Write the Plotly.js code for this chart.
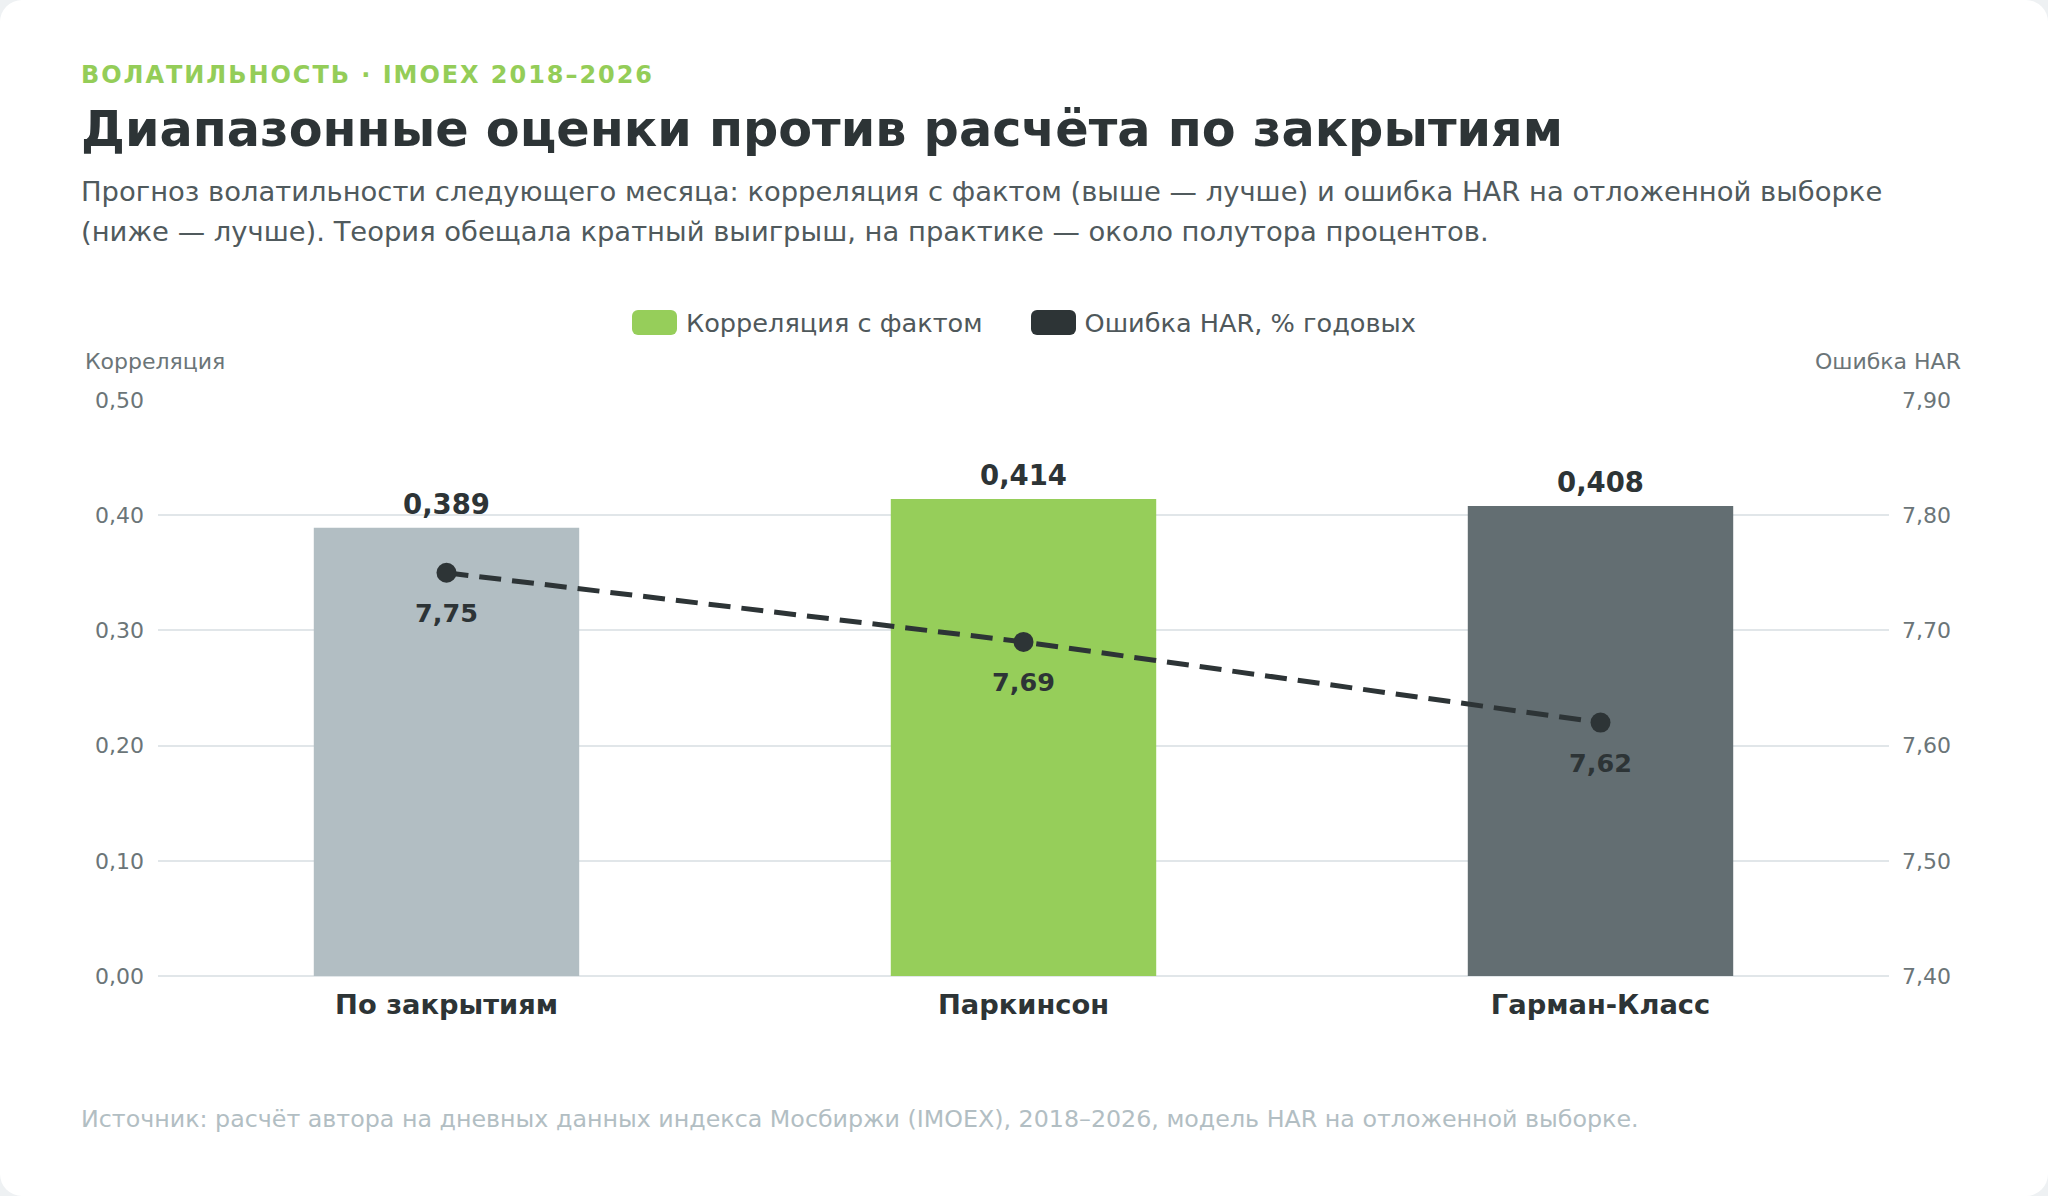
<!DOCTYPE html>
<html lang="ru">
<head>
<meta charset="utf-8">
<title>Диапазонные оценки против расчёта по закрытиям</title>
<script src="https://cdn.plot.ly/plotly-3.0.1.min.js"></script>
<style>
  html, body { margin:0; padding:0; background:#eef1f3; }
  body { width:2048px; height:1196px; overflow:hidden; font-family:"DejaVu Sans", sans-serif; }
  .card { position:absolute; left:0; top:0; width:2048px; height:1196px; background:#fff; border-radius:22px; }
  .kicker { position:absolute; left:81px; top:63px; font-size:24px; line-height:24px; font-weight:bold;
            color:#94cd58; letter-spacing:1.95px; white-space:nowrap; }
  .title { position:absolute; left:81px; top:105px; font-size:49.3px; line-height:49.3px; font-weight:bold;
           color:#2d3436; white-space:nowrap; }
  .subtitle { position:absolute; left:81px; top:172px; font-size:27.4px; line-height:40px; color:#505a5d; white-space:nowrap; }
  .legend { position:absolute; left:0; width:2048px; top:310px; height:25px; display:flex; justify-content:center;
            align-items:center; gap:48px; font-size:25.6px; color:#4f585b; }
  .legend .item { display:flex; align-items:center; gap:9px; }
  .legend .sw { width:45px; height:25px; border-radius:6px; display:inline-block; }
  .footer { position:absolute; left:81px; top:1107px; font-size:23.75px; line-height:24px; color:#b2bec3; white-space:nowrap; }
  #chart { position:absolute; left:0; top:0; width:2048px; height:1196px; }
</style>
</head>
<body>
<div class="card"></div>
<div class="kicker">ВОЛАТИЛЬНОСТЬ · IMOEX 2018–2026</div>
<div class="title">Диапазонные оценки против расчёта по закрытиям</div>
<div class="subtitle">Прогноз волатильности следующего месяца: корреляция с фактом (выше — лучше) и ошибка HAR на отложенной выборке<br>(ниже — лучше). Теория обещала кратный выигрыш, на практике — около полутора процентов.</div>
<div id="chart"></div>
<div class="legend" id="legend"></div>
<div class="footer">Источник: расчёт автора на дневных данных индекса Мосбиржи (IMOEX), 2018–2026, модель HAR на отложенной выборке.</div>

<script>
  // данные
  const categories = ['По закрытиям', 'Паркинсон', 'Гарман-Класс'];
  const correlation = [0.389, 0.414, 0.408];
  const harError = [7.75, 7.69, 7.62];
  const barColors = ['#b2bec3', '#96ce5a', '#636e72'];
  const legendNames = ['Корреляция с фактом', 'Ошибка HAR, % годовых'];
  const legendColors = ['#96ce5a', '#2d3436'];

  const INK = '#2d3436';
  const MUTED = '#6b7578';
  const GRID = '#e1e6e9';
  const FONT = '"DejaVu Sans", sans-serif';

  const fmt = (v, d) => v.toFixed(d).replace('.', ',');

  const bars = {
    type: 'bar', x: categories, y: correlation, width: 0.46,
    marker: { color: barColors, line: { width: 0 } },
    hoverinfo: 'skip', showlegend: false
  };

  const line = {
    type: 'scatter', mode: 'lines+markers', x: categories, y: harError, yaxis: 'y2',
    line: { color: INK, width: 5, dash: '22px,11px' },
    marker: { color: INK, size: 20 },
    hoverinfo: 'skip', showlegend: false
  };

  const annotations = [];
  categories.forEach((c, i) => {
    annotations.push({
      x: c, y: correlation[i], xref: 'x', yref: 'y', text: fmt(correlation[i], 3),
      showarrow: false, yanchor: 'bottom', yshift: 6,
      font: { family: FONT, size: 27.5, color: INK, weight: 'bold' }
    });
    annotations.push({
      x: c, y: harError[i], xref: 'x', yref: 'y2', text: fmt(harError[i], 2),
      showarrow: false, yanchor: 'top', yshift: -23,
      font: { family: FONT, size: 25.5, color: INK, weight: 'bold' }
    });
  });
  annotations.push({
    xref: 'paper', yref: 'paper', x: -0.0433, y: 1.066, xanchor: 'left', yanchor: 'middle',
    text: 'Корреляция', showarrow: false, font: { family: FONT, size: 22, color: MUTED }
  });
  annotations.push({
    xref: 'paper', yref: 'paper', x: 1.0428, y: 1.066, xanchor: 'right', yanchor: 'middle',
    text: 'Ошибка HAR', showarrow: false, font: { family: FONT, size: 22, color: MUTED }
  });

  const layout = {
    width: 2048, height: 1196,
    margin: { l: 158, r: 159, t: 400, b: 220 },
    paper_bgcolor: 'rgba(0,0,0,0)', plot_bgcolor: 'rgba(0,0,0,0)',
    separators: ', ',
    font: { family: FONT, color: MUTED },
    showlegend: false,
    xaxis: {
      type: 'category', range: [-0.5, 2.5], showgrid: false, zeroline: false, showline: false,
      ticks: '', ticklabelstandoff: 10,
      tickfont: { family: FONT, size: 27.3, color: INK, weight: 'bold' }
    },
    yaxis: {
      range: [0, 0.5], dtick: 0.1, tickformat: '.2f', showgrid: true, gridcolor: GRID, gridwidth: 2,
      zeroline: true, zerolinecolor: GRID, zerolinewidth: 2, showline: false,
      ticks: '', ticklabelstandoff: 13,
      tickfont: { family: FONT, size: 22, color: MUTED }
    },
    yaxis2: {
      overlaying: 'y', side: 'right', range: [7.4, 7.9], dtick: 0.1, tickformat: '.2f',
      showgrid: false, zeroline: false, showline: false, ticks: '', ticklabelstandoff: 12,
      tickfont: { family: FONT, size: 22, color: MUTED }
    },
    annotations: annotations
  };

  Plotly.newPlot('chart', [bars, line], layout, { displayModeBar: false, staticPlot: true });

  // легенда
  const legend = document.getElementById('legend');
  legendNames.forEach((name, i) => {
    const item = document.createElement('span');
    item.className = 'item';
    item.innerHTML = `<span class="sw" style="background:${legendColors[i]}"></span><span>${name}</span>`;
    legend.appendChild(item);
  });
</script>
</body>
</html>
